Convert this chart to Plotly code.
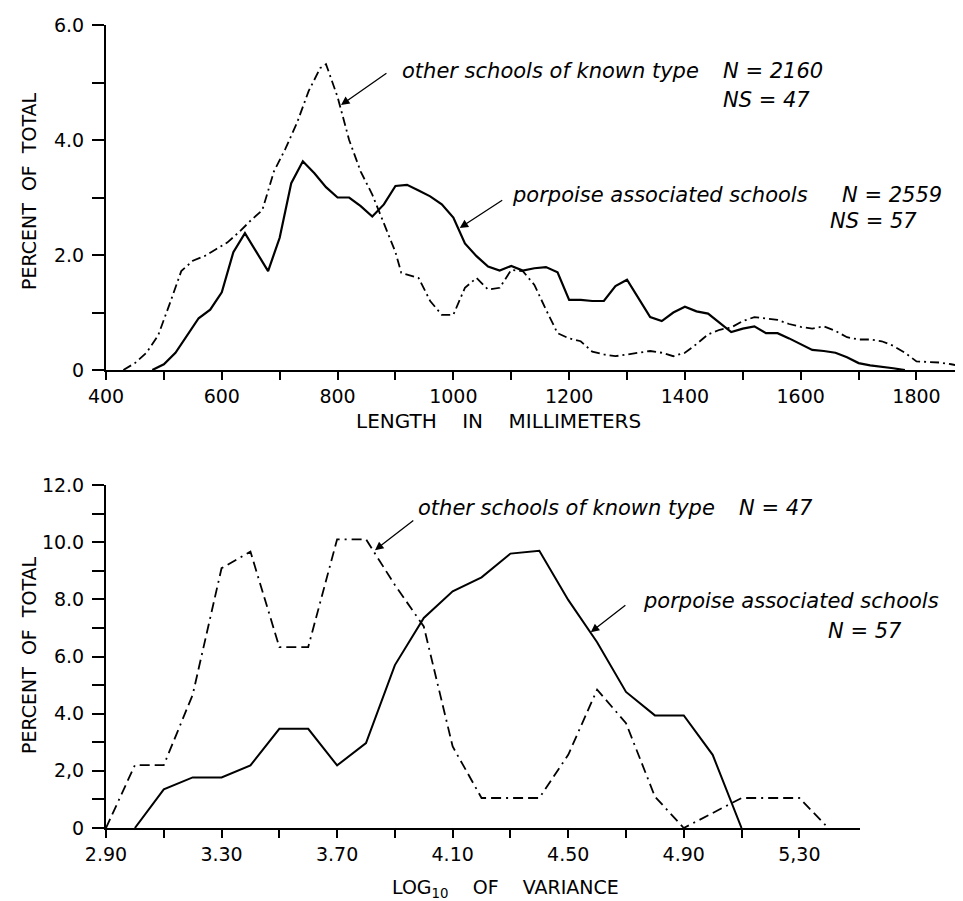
import plotly.graph_objects as go

# ---------------- data ----------------
# Top panel: length frequency (percent of total)
len_other_mm = [430, 450, 470, 490, 510, 530, 550, 570, 590, 610, 630, 650, 670, 690, 710, 730,
                750, 770, 780, 800, 820, 840, 860, 880, 900, 910, 940, 960, 980, 1000, 1020, 1040,
                1060, 1080, 1100, 1120, 1140, 1160, 1180, 1200, 1220, 1240, 1260, 1280, 1300, 1320,
                1340, 1360, 1380, 1400, 1420, 1440, 1460, 1480, 1500, 1520, 1540, 1560, 1580, 1600,
                1620, 1640, 1660, 1680, 1700, 1720, 1740, 1760, 1780, 1800, 1820, 1840, 1860, 1880]
len_other_pct = [0.0, 0.12, 0.3, 0.6, 1.15, 1.72, 1.9, 1.98, 2.1, 2.22, 2.4, 2.6, 2.78, 3.45, 3.85, 4.3,
                 4.85, 5.25, 5.32, 4.75, 4.0, 3.45, 3.05, 2.55, 2.05, 1.69, 1.6, 1.2, 0.96, 0.96, 1.43, 1.6,
                 1.4, 1.43, 1.74, 1.72, 1.48, 1.05, 0.64, 0.55, 0.5, 0.32, 0.27, 0.24, 0.27, 0.3,
                 0.33, 0.3, 0.24, 0.3, 0.45, 0.62, 0.7, 0.74, 0.85, 0.92, 0.9, 0.87, 0.8, 0.75,
                 0.72, 0.76, 0.68, 0.57, 0.53, 0.53, 0.5, 0.42, 0.3, 0.15, 0.14, 0.13, 0.1, 0.06]

len_porp_mm = [480, 500, 520, 540, 560, 580, 600, 620, 640, 660, 680, 700, 720, 740, 760, 780, 800,
               820, 840, 860, 880, 900, 920, 940, 960, 980, 1000, 1020, 1040, 1060, 1080, 1100, 1120,
               1140, 1160, 1180, 1200, 1220, 1240, 1260, 1280, 1300, 1320, 1340, 1360, 1380, 1400,
               1420, 1440, 1460, 1480, 1500, 1520, 1540, 1560, 1580, 1600, 1620, 1640, 1660, 1680,
               1700, 1720, 1740, 1760, 1780]
len_porp_pct = [0.0, 0.1, 0.3, 0.6, 0.9, 1.05, 1.35, 2.05, 2.38, 2.05, 1.72, 2.3, 3.25, 3.63, 3.42, 3.18, 3.0,
                3.0, 2.85, 2.67, 2.88, 3.2, 3.22, 3.12, 3.02, 2.88, 2.65, 2.2, 1.98, 1.8, 1.73, 1.81, 1.73,
                1.77, 1.79, 1.7, 1.22, 1.22, 1.2, 1.2, 1.46, 1.57, 1.25, 0.92, 0.85, 1.0, 1.1,
                1.02, 0.98, 0.82, 0.66, 0.72, 0.76, 0.64, 0.64, 0.55, 0.45, 0.35, 0.33, 0.3, 0.22,
                0.12, 0.08, 0.06, 0.03, 0.0]

# Bottom panel: log10 of variance (percent of total)
var_other_log = [2.9, 3.0, 3.1, 3.2, 3.3, 3.4, 3.5, 3.6, 3.7, 3.8, 3.9, 4.0, 4.1, 4.2, 4.3, 4.4,
                 4.5, 4.6, 4.7, 4.8, 4.9, 5.0, 5.1, 5.2, 5.3, 5.4]
var_other_pct = [0.0, 2.2, 2.2, 4.66, 9.09, 9.67, 6.33, 6.33, 10.1, 10.1, 8.5, 7.05, 2.85, 1.05, 1.05, 1.05,
                 2.56, 4.84, 3.67, 1.1, 0.0, 0.52, 1.05, 1.05, 1.05, 0.0]

var_porp_log = [3.0, 3.1, 3.2, 3.3, 3.4, 3.5, 3.6, 3.7, 3.8, 3.9, 4.0, 4.1, 4.2, 4.3, 4.4, 4.5,
                4.6, 4.7, 4.8, 4.9, 5.0, 5.1]
var_porp_pct = [0.0, 1.35, 1.77, 1.77, 2.19, 3.47, 3.47, 2.19, 2.97, 5.7, 7.35, 8.28, 8.77, 9.6, 9.7, 7.98,
                6.5, 4.76, 3.94, 3.94, 2.56, 0.0]

top_xticks = list(range(400, 1900, 100))
top_xlabels = ["400", "", "600", "", "800", "", "1000", "", "1200", "", "1400", "", "1600", "", "1800"]
top_yticks = [0, 1, 2, 3, 4, 5, 6]
top_ylabels = ["0", "", "2.0", "", "4.0", "", "6.0"]
bot_xticks = [2.9, 3.1, 3.3, 3.5, 3.7, 3.9, 4.1, 4.3, 4.5, 4.7, 4.9, 5.1, 5.3]
bot_xlabels = ["2.90", "", "3.30", "", "3.70", "", "4.10", "", "4.50", "", "4.90", "", "5,30"]
bot_yticks = list(range(0, 13))
bot_ylabels = ["0", "", "2,0", "", "4.0", "", "6.0", "", "8.0", "", "10.0", "", "12.0"]

# ---------------- figure ----------------
W, H = 963, 901
FONT = "DejaVu Sans"


def fx(p):
    return p / W


def fy(p):
    return 1 - p / H


DASHDOT = "9px,4px,2px,4px"
DASHED = "10px,5px,10px,5px,2px,5px"

fig = go.Figure()
fig.add_trace(go.Scatter(x=len_other_mm, y=len_other_pct, mode="lines",
                         line=dict(color="black", width=1.8, dash=DASHDOT),
                         xaxis="x", yaxis="y", showlegend=False))
fig.add_trace(go.Scatter(x=len_porp_mm, y=len_porp_pct, mode="lines",
                         line=dict(color="black", width=2.2),
                         xaxis="x", yaxis="y", showlegend=False))
fig.add_trace(go.Scatter(x=var_other_log, y=var_other_pct, mode="lines",
                         line=dict(color="black", width=1.8, dash=DASHED),
                         xaxis="x2", yaxis="y2", showlegend=False))
fig.add_trace(go.Scatter(x=var_porp_log, y=var_porp_pct, mode="lines",
                         line=dict(color="black", width=2.0),
                         xaxis="x2", yaxis="y2", showlegend=False))

axis_common = dict(showgrid=False, zeroline=False, showline=True, linecolor="black",
                   linewidth=2, ticks="outside", tickcolor="black", tickwidth=1.5,
                   automargin=False,
                   tickfont=dict(family=FONT, size=19, color="black"), tickmode="array")

fig.update_layout(
    width=W, height=H,
    margin=dict(l=0, r=0, t=0, b=0),
    paper_bgcolor="white", plot_bgcolor="white",
    xaxis=dict(domain=[fx(98), fx(960)], range=[400, 1889], anchor="y",
               tickvals=top_xticks, ticktext=top_xlabels, ticklen=8, **axis_common),
    yaxis=dict(domain=[fy(362), fy(17)], range=[0, 6], anchor="x",
               tickvals=top_yticks, ticktext=top_ylabels, ticklen=12, ticklabelstandoff=4,
               **axis_common),
    xaxis2=dict(domain=[fx(98), fx(852)], range=[2.9, 5.51], anchor="y2",
                tickvals=bot_xticks, ticktext=bot_xlabels, ticklen=8, **axis_common),
    yaxis2=dict(domain=[fy(820), fy(477)], range=[0, 12], anchor="x2",
                tickvals=bot_yticks, ticktext=bot_ylabels, ticklen=12, ticklabelstandoff=4,
                **axis_common),
)

ann = []


def label(text, px, py, size=21, xanchor="left", italic=True, angle=0):
    t = f"<i>{text}</i>" if italic else text
    ann.append(dict(text=t, x=fx(px), y=fy(py), xref="paper", yref="paper",
                    xanchor=xanchor, yanchor="middle", showarrow=False, textangle=angle,
                    font=dict(family=FONT, size=size, color="black")))


def arrow(xh, yh, xt, yt, xr, yr):
    ann.append(dict(text="", x=xh, y=yh, ax=xt, ay=yt, xref=xr, yref=yr, axref=xr, ayref=yr,
                    showarrow=True, arrowhead=2, arrowsize=1.3, arrowwidth=1.3,
                    arrowcolor="black", standoff=0, startstandoff=0))


SP = "&nbsp;&nbsp;&nbsp; "

# top panel annotations
label("other schools of known type", 392, 63)
label("N = 2160", 713, 63)
label("NS = 47", 713, 92)
arrow(806, 4.61, 887, 5.18, "x", "y")
label("porpoise associated schools", 502, 187)
label("N = 2559", 832, 187)
label("NS = 57", 820, 213)
arrow(1011, 2.47, 1087, 2.97, "x", "y")

# bottom panel annotations
label("other schools of known type", 408, 500)
label("N = 47", 729, 500)
arrow(3.831, 9.72, 3.969, 10.8, "x2", "y2")
label("porpoise associated schools", 633, 593)
label("N = 57", 818, 623)
arrow(4.578, 6.85, 4.703, 7.83, "x2", "y2")

# axis titles
label(f"LENGTH{SP}IN{SP}MILLIMETERS", 490, 413, size=20, xanchor="center", italic=False)
label(f"LOG<sub>10</sub>{SP}OF{SP}VARIANCE", 497, 880, size=19, xanchor="center", italic=False)
label("PERCENT&nbsp; OF&nbsp; TOTAL", 21, 183, size=19, xanchor="center", italic=False, angle=-90)
label("PERCENT&nbsp; OF&nbsp; TOTAL", 21, 647, size=19, xanchor="center", italic=False, angle=-90)

fig.update_layout(annotations=ann)
fig.write_html("out.html")
